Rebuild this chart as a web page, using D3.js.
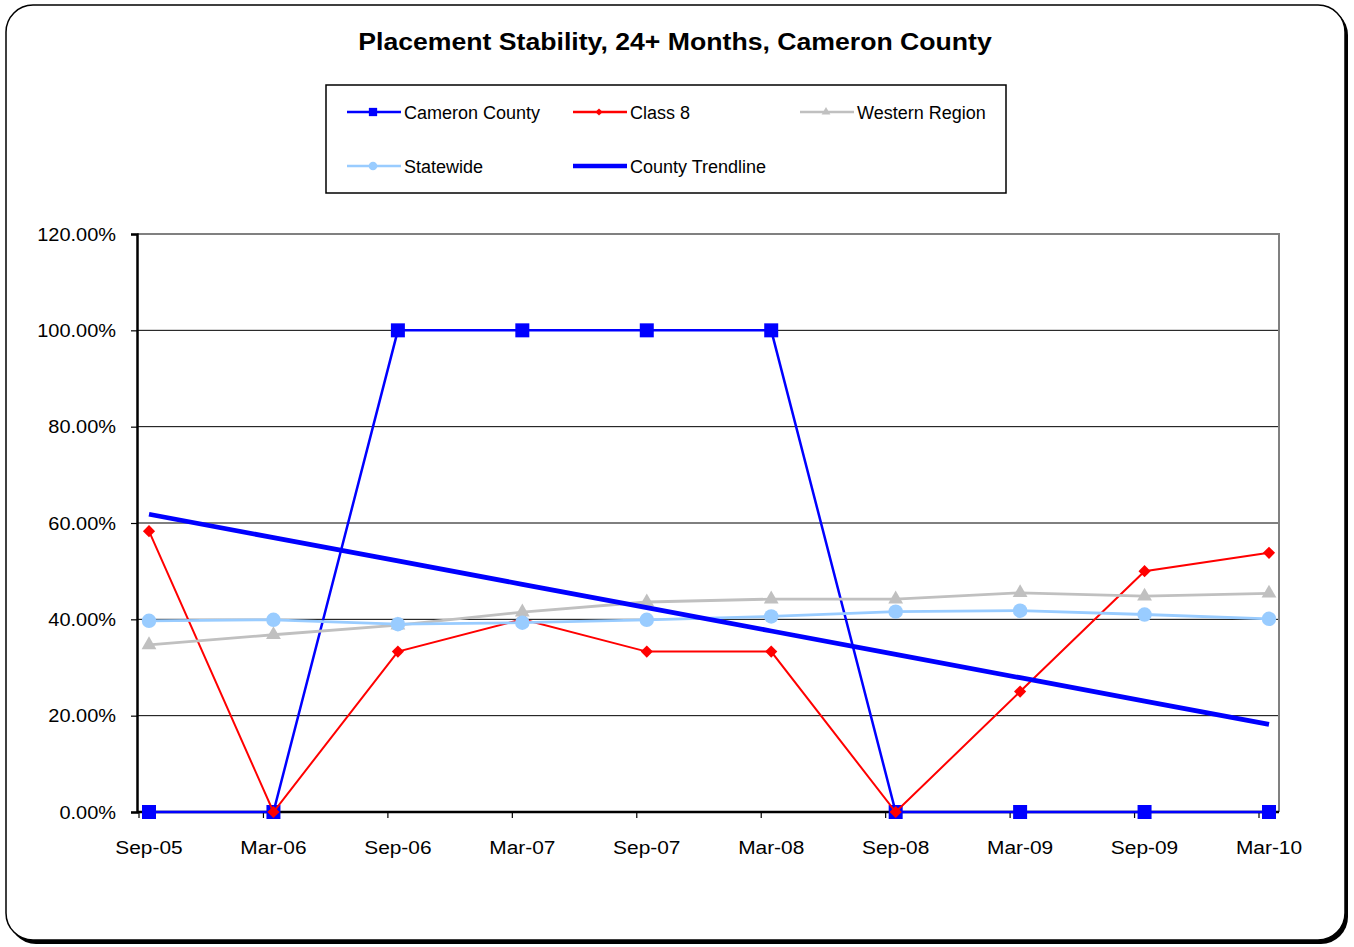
<!DOCTYPE html>
<html>
<head>
<meta charset="utf-8">
<script src="https://cdn.jsdelivr.net/npm/d3@7"></script>
<style>
  html, body { margin: 0; padding: 0; background: #fff; }
  svg { display: block; font-family: "Liberation Sans", Arial, sans-serif; }
</style>
</head>
<body>
<svg id="chart" width="1354" height="947"></svg>
<script>
// Data
const categories = ['Sep-05', 'Mar-06', 'Sep-06', 'Mar-07', 'Sep-07', 'Mar-08', 'Sep-08', 'Mar-09', 'Sep-09', 'Mar-10']
const cameronCounty = [0, 0, 100, 100, 100, 100, 0, 0, 0, 0]
const class8 = [58.3, 0, 33.3, 40, 33.3, 33.3, 0, 25, 50, 53.8]
const westernRegion = [34.7, 36.8, 38.8, 41.5, 43.6, 44.2, 44.2, 45.5, 44.8, 45.4]
const statewide = [39.7, 39.9, 39.0, 39.3, 39.9, 40.6, 41.6, 41.8, 41.0, 40.1]
const yTicks = [0, 20, 40, 60, 80, 100, 120]

// linear trendline of the county series
const xs = cameronCounty.map((_, i) => i + 1)
const mx = d3.mean(xs), my = d3.mean(cameronCounty)
const slope = d3.sum(xs, (x, i) => (x - mx) * (cameronCounty[i] - my)) / d3.sum(xs, x => (x - mx) ** 2)
const trend = xs.map(x => my + slope * (x - mx))

const svg = d3.select('#chart')

// Frame with shadow
svg.append('rect')
    .attr('x', 9).attr('y', 8).attr('width', 1339).attr('height', 936)
    .attr('rx', 27).attr('fill', '#000')
svg.append('rect')
    .attr('x', 6).attr('y', 5).attr('width', 1339).attr('height', 935)
    .attr('rx', 27).attr('fill', '#fff').attr('stroke', '#000').attr('stroke-width', 1.5)

// the reference text is a little wider than Liberation Sans, so stretch it
svg.append('text')
    .attr('transform', 'translate(675,50) scale(1.11,1)')
    .attr('text-anchor', 'middle')
    .style('font-size', '24px').style('font-weight', 'bold')
    .text('Placement Stability, 24+ Months, Cameron County')

// Scales
const plot = { left: 137, right: 1279, top: 234, bottom: 812 }
const x = d3.scalePoint().domain(categories).range([149, 1269])
const y = d3.scaleLinear().domain([0, 120]).range([plot.bottom, plot.top])

// Grid
svg.append('g').selectAll('line')
    .data(yTicks.filter(t => t > 0 && t < 120))
    .join('line')
    .attr('x1', plot.left).attr('x2', plot.right)
    .attr('y1', d => y(d)).attr('y2', d => y(d))
    .attr('stroke', '#000').attr('stroke-width', 1)
svg.append('path')
    .attr('d', `M${plot.left},${plot.top}H${plot.right}V${plot.bottom}`)
    .attr('fill', 'none').attr('stroke', '#808080').attr('stroke-width', 2)

// Axes
const yAxis = svg.append('g')
    .attr('transform', `translate(${plot.left},0)`)
    .call(d3.axisLeft(y).tickValues(yTicks).tickSize(6).tickFormat(d => d.toFixed(2) + '%'))
yAxis.select('.domain').attr('stroke-width', 2.5)
yAxis.selectAll('.tick line').attr('stroke-width', 1.2)
yAxis.selectAll('text')
    .attr('x', 0).attr('dy', '0.34em')
    .attr('transform', 'translate(-21,0) scale(1.11,1)')
    .style('font-size', '18px').attr('fill', '#000')

const xAxis = svg.append('g')
    .attr('transform', `translate(0,${plot.bottom})`)
xAxis.append('line')
    .attr('x1', plot.left).attr('x2', plot.right)
    .attr('stroke', '#000').attr('stroke-width', 2.5)
xAxis.selectAll('line.tick')
    .data(categories)
    .join('line')
    .attr('class', 'tick')
    .attr('x1', d => x(d) - 10).attr('x2', d => x(d) - 10)
    .attr('y1', 0).attr('y2', 6)
    .attr('stroke', '#000').attr('stroke-width', 1.2)
xAxis.selectAll('text')
    .data(categories)
    .join('text')
    .attr('transform', d => `translate(${x(d)},42) scale(1.1,1)`)
    .attr('text-anchor', 'middle')
    .style('font-size', '19px')
    .text(d => d)

// Series
const series = [
    { name: 'Cameron County', values: cameronCounty, color: '#0000FF', width: 2.5, marker: d3.symbolSquare, size: 196, rotate: 0 },
    { name: 'Class 8', values: class8, color: '#FF0000', width: 2, marker: d3.symbolSquare, size: 74, rotate: 45 },
    { name: 'Western Region', values: westernRegion, color: '#C0C0C0', width: 2.8, marker: d3.symbolTriangle, size: 95, rotate: 0 },
    { name: 'Statewide', values: statewide, color: '#99CCFF', width: 2.8, marker: d3.symbolCircle, size: 165, rotate: 0 },
    { name: 'County Trendline', values: trend, color: '#0000FF', width: 4.8, marker: null }
]

const line = d3.line()
    .x((_, i) => x(categories[i]))
    .y(v => y(v))

series.forEach(s => {
    const g = svg.append('g')
    g.append('path')
        .attr('d', line(s.values))
        .attr('fill', 'none')
        .attr('stroke', s.color)
        .attr('stroke-width', s.width)
    if (s.marker) {
        g.selectAll('path.marker')
            .data(s.values)
            .join('path')
            .attr('class', 'marker')
            .attr('transform', (v, i) => `translate(${x(categories[i])},${y(v)}) rotate(${s.rotate})`)
            .attr('d', d3.symbol(s.marker, s.size))
            .attr('fill', s.color)
    }
})

// Legend
svg.append('rect')
    .attr('x', 326).attr('y', 85).attr('width', 680).attr('height', 108)
    .attr('fill', '#fff').attr('stroke', '#000').attr('stroke-width', 1.5)
const legendPos = [[347, 112], [573, 112], [800, 112], [347, 166], [573, 166]]
const legendItems = svg.append('g').selectAll('g')
    .data(series)
    .join('g')
    .attr('transform', (_, i) => `translate(${legendPos[i][0]},${legendPos[i][1]})`)
legendItems.append('line')
    .attr('x1', 0).attr('x2', 54)
    .attr('stroke', d => d.color)
    .attr('stroke-width', d => d.marker ? 2.5 : 4.5)
legendItems.filter(d => d.marker).append('path')
    .attr('transform', d => `translate(26,0) rotate(${d.rotate})`)
    .attr('d', d => d3.symbol(d.marker, d.size * 0.35)())
    .attr('fill', d => d.color)
legendItems.append('text')
    .attr('x', 57).attr('y', 7)
    .style('font-size', '18px')
    .text(d => d.name)
</script>
</body>
</html>
